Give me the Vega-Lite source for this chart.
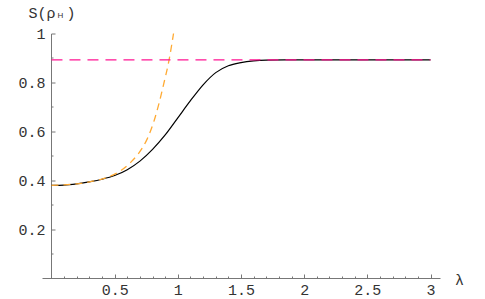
{
  "$schema": "https://vega.github.io/schema/vega-lite/v6.json",
  "width": 398,
  "height": 244.5,
  "autosize": {"type": "none"},
  "padding": {"left": 42, "top": 33.5, "right": 45, "bottom": 21},
  "background": "white",
  "config": {
    "view": {"stroke": null},
    "axis": {
      "grid": false,
      "labelFont": "Liberation Mono",
      "labelFontSize": 15,
      "labelColor": "#333333",
      "domainColor": "#777777",
      "tickColor": "#777777",
      "titleFont": "Liberation Mono",
      "titleColor": "#333333",
      "titleFontWeight": "normal"
    }
  },
  "datasets": {
    "curves": [
      {"series": "exact", "lam": 0, "S": 0.379},
      {"series": "exact", "lam": 0.1, "S": 0.380},
      {"series": "exact", "lam": 0.2, "S": 0.385},
      {"series": "exact", "lam": 0.308, "S": 0.394},
      {"series": "exact", "lam": 0.4, "S": 0.404},
      {"series": "exact", "lam": 0.5, "S": 0.419},
      {"series": "exact", "lam": 0.6, "S": 0.443},
      {"series": "exact", "lam": 0.7, "S": 0.478},
      {"series": "exact", "lam": 0.8, "S": 0.526},
      {"series": "exact", "lam": 0.9, "S": 0.585},
      {"series": "exact", "lam": 1.0, "S": 0.655},
      {"series": "exact", "lam": 1.1, "S": 0.725},
      {"series": "exact", "lam": 1.2, "S": 0.790},
      {"series": "exact", "lam": 1.3, "S": 0.840},
      {"series": "exact", "lam": 1.4, "S": 0.868},
      {"series": "exact", "lam": 1.5, "S": 0.881},
      {"series": "exact", "lam": 1.6, "S": 0.888},
      {"series": "exact", "lam": 1.7, "S": 0.891},
      {"series": "exact", "lam": 1.85, "S": 0.892},
      {"series": "exact", "lam": 2.2, "S": 0.892},
      {"series": "exact", "lam": 3.0, "S": 0.892},
      {"series": "approx", "lam": 0, "S": 0.379},
      {"series": "approx", "lam": 0.2, "S": 0.385},
      {"series": "approx", "lam": 0.308, "S": 0.394},
      {"series": "approx", "lam": 0.45, "S": 0.413},
      {"series": "approx", "lam": 0.545, "S": 0.438},
      {"series": "approx", "lam": 0.625, "S": 0.472},
      {"series": "approx", "lam": 0.69, "S": 0.510},
      {"series": "approx", "lam": 0.757, "S": 0.568},
      {"series": "approx", "lam": 0.809, "S": 0.638},
      {"series": "approx", "lam": 0.848, "S": 0.708},
      {"series": "approx", "lam": 0.888, "S": 0.793},
      {"series": "approx", "lam": 0.93, "S": 0.89},
      {"series": "approx", "lam": 0.966, "S": 1.0},
      {"series": "limit", "lam": 0, "S": 0.892},
      {"series": "limit", "lam": 3.0, "S": 0.892}
    ]
  },
  "data": {"name": "curves"},
  "layer": [
    {
      "transform": [{"filter": "datum.series === 'exact'"}],
      "mark": {"type": "line", "color": "#000000", "strokeWidth": 1.2, "interpolate": "monotone"},
      "encoding": {
        "x": {
          "field": "lam", "type": "quantitative",
          "scale": {"domain": [-0.075, 3.075], "nice": false, "zero": false},
          "axis": {
            "orient": "bottom",
            "values": [0.5, 1, 1.5, 2, 2.5, 3],
            "format": "~g",
            "tickSize": -4,
            "labelPadding": 8,
            "title": "λ",
            "titleFontSize": 15,
            "titleX": 417,
            "titleY": 1,
            "titleAlign": "center",
            "titleBaseline": "middle",
            "titleAnchor": null
          }
        },
        "y": {
          "field": "S", "type": "quantitative",
          "scale": {"domain": [0, 1], "nice": false, "zero": false},
          "axis": {
            "orient": "left",
            "offset": -9,
            "values": [0.2, 0.4, 0.6, 0.8, 1],
            "format": "~g",
            "tickSize": -4,
            "labelPadding": 10,
            "title": "S(ρ",
            "titleFontSize": 15,
            "titleAngle": 0,
            "titleAlign": "left",
            "titleBaseline": "alphabetic",
            "titleX": -23,
            "titleY": -16,
            "titleAnchor": null
          }
        }
      }
    },
    {
      "transform": [{"filter": "datum.series === 'approx'"}],
      "mark": {"type": "line", "color": "#ffaa33", "strokeWidth": 1.3, "strokeDash": [7, 5], "interpolate": "monotone"},
      "encoding": {
        "x": {"field": "lam", "type": "quantitative", "axis": null},
        "y": {"field": "S", "type": "quantitative", "axis": null}
      }
    },
    {
      "transform": [{"filter": "datum.series === 'limit'"}],
      "mark": {"type": "line", "color": "#ff1493", "strokeWidth": 1.1, "strokeDash": [11, 7]},
      "encoding": {
        "x": {
          "field": "lam", "type": "quantitative",
          "axis": {
            "orient": "bottom",
            "values": [0.1, 0.2, 0.3, 0.4, 0.6, 0.7, 0.8, 0.9, 1.1, 1.2, 1.3, 1.4, 1.6, 1.7, 1.8, 1.9, 2.1, 2.2, 2.3, 2.4, 2.6, 2.7, 2.8, 2.9],
            "labels": false,
            "domain": false,
            "tickSize": -2,
            "title": ")",
            "titleFontSize": 15,
            "titleAngle": 0,
            "titleAlign": "left",
            "titleBaseline": "alphabetic",
            "titleX": 24,
            "titleY": -261,
            "titleAnchor": null
          }
        },
        "y": {
          "field": "S", "type": "quantitative",
          "axis": {
            "orient": "left",
            "offset": -9,
            "values": [0.1, 0.3, 0.5, 0.7, 0.9],
            "labels": false,
            "domain": false,
            "tickSize": -2,
            "title": "H",
            "titleFont": "Liberation Sans",
            "titleFontSize": 8,
            "titleAngle": 0,
            "titleAlign": "center",
            "titleBaseline": "alphabetic",
            "titleX": 9,
            "titleY": -16.5,
            "titleAnchor": null
          }
        }
      }
    }
  ],
  "resolve": {"axis": {"x": "independent", "y": "independent"}}
}
